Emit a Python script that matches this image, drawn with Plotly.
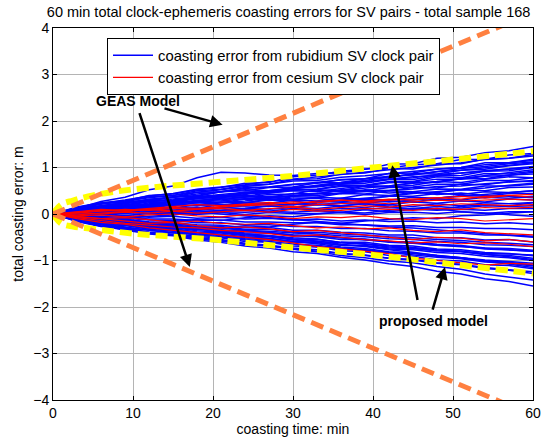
import plotly.graph_objects as go

# coasting time samples (min)
t = [0, 3, 6, 9, 12, 15, 18, 21, 24, 27, 30, 33, 36, 39, 42, 45, 48, 51, 54, 57, 60]

# rubidium SV clock pair coasting errors (m)
blue_series = [
    [0, .15, .24, .28, .40, .43, .52, .57, .66, .68, .80, .84, .92, .96, 1.07, 1.08, 1.20, 1.22, 1.32, 1.36, 1.45],
    [0, .12, .27, .36, .52, .60, .78, .90, .88, .84, .83, .87, .88, .97, .99, 1.06, 1.08, 1.17, 1.18, 1.27, 1.30],
    [0, .10, .22, .26, .37, .40, .50, .53, .62, .64, .74, .76, .86, .88, .98, .97, 1.08, 1.08, 1.18, 1.20, 1.28],
    [0, .08, .17, .23, .32, .36, .47, .48, .57, .58, .64, .66, .74, .76, .87, .88, .97, 1.00, 1.10, 1.10, 1.18],
    [0, .12, .16, .24, .28, .37, .38, .48, .50, .57, .58, .67, .68, .76, .78, .87, .86, .94, .96, 1.04, 1.08],
    [0, .05, .14, .18, .27, .30, .37, .38, .47, .48, .57, .58, .64, .66, .74, .74, .82, .83, .92, .93, 1.00],
    [0, .08, .12, .13, .24, .26, .34, .36, .44, .46, .52, .53, .62, .62, .70, .70, .80, .78, .87, .86, .92],
    [0, .10, .13, .20, .18, .27, .28, .34, .36, .42, .43, .52, .50, .60, .60, .67, .68, .76, .76, .84, .86],
    [0, .05, .12, .13, .20, .20, .30, .30, .37, .36, .44, .43, .52, .50, .57, .58, .64, .64, .72, .72, .78],
    [0, .06, .10, .16, .18, .26, .24, .32, .32, .38, .38, .44, .44, .52, .50, .57, .56, .64, .63, .70, .70],
    [0, .04, .10, .10, .18, .18, .24, .24, .32, .30, .37, .36, .44, .43, .50, .48, .54, .53, .60, .60, .64],
    [0, .06, .08, .12, .12, .20, .18, .26, .24, .32, .30, .36, .34, .42, .40, .46, .46, .52, .50, .57, .58],
    [0, .03, .08, .08, .14, .13, .20, .18, .24, .23, .30, .28, .34, .32, .38, .38, .44, .42, .48, .46, .50],
    [0, .05, .06, .10, .08, .14, .13, .20, .18, .22, .20, .27, .26, .32, .30, .36, .34, .40, .38, .44, .44],
    [0, .02, .07, .06, .12, .08, .14, .13, .18, .16, .22, .20, .24, .23, .28, .26, .32, .30, .36, .34, .38],
    [0, .04, .02, .08, .06, .12, .08, .14, .12, .17, .14, .20, .18, .22, .20, .26, .23, .28, .26, .32, .30],
    [0, .02, .05, .03, .08, .04, .10, .08, .12, .10, .14, .12, .17, .14, .20, .16, .22, .18, .24, .22, .25],
    [0, 0, .03, .01, .05, .04, .07, .05, .10, .06, .12, .08, .12, .10, .14, .12, .16, .13, .18, .16, .18],
    [0, .02, -.01, .03, .01, .05, .01, .05, .04, .06, .04, .07, .04, .09, .05, .10, .08, .10, .08, .12, .12],
    [0, -.02, .01, -.03, .01, .02, -.01, .03, -.01, .03, .01, .01, .03, -.01, .03, .04, .01, .05, .01, .05, .05],
    [0, -.02, -.05, -.03, -.07, -.05, -.09, -.07, -.11, -.09, -.13, -.11, -.15, -.13, -.16, -.15, -.19, -.17, -.21, -.19, -.22],
    [0, -.04, -.06, -.07, -.11, -.11, -.14, -.13, -.17, -.17, -.19, -.19, -.23, -.23, -.26, -.25, -.29, -.29, -.31, -.31, -.34],
    [0, -.03, -.09, -.09, -.13, -.14, -.19, -.19, -.23, -.23, -.27, -.27, -.31, -.31, -.36, -.37, -.41, -.41, -.45, -.45, -.48],
    [0, -.06, -.11, -.13, -.17, -.19, -.23, -.24, -.29, -.29, -.35, -.35, -.39, -.41, -.45, -.45, -.51, -.51, -.56, -.55, -.60],
    [0, -.05, -.13, -.14, -.21, -.23, -.29, -.29, -.35, -.37, -.41, -.43, -.47, -.49, -.53, -.55, -.59, -.61, -.66, -.67, -.70],
    [0, -.08, -.13, -.17, -.23, -.27, -.33, -.34, -.41, -.41, -.47, -.49, -.55, -.55, -.61, -.63, -.67, -.69, -.75, -.77, -.80],
    [0, -.10, -.16, -.19, -.27, -.29, -.36, -.39, -.45, -.47, -.53, -.55, -.61, -.61, -.67, -.69, -.75, -.77, -.83, -.85, -.90],
    [0, -.10, -.19, -.21, -.31, -.34, -.41, -.44, -.51, -.53, -.59, -.61, -.67, -.69, -.75, -.77, -.83, -.85, -.91, -.94, -1.00],
    [0, -.12, -.21, -.25, -.33, -.37, -.45, -.49, -.56, -.59, -.65, -.67, -.73, -.77, -.83, -.85, -.91, -.94, -1.01, -1.04, -1.10],
    [0, -.14, -.23, -.29, -.36, -.41, -.49, -.51, -.59, -.61, -.69, -.71, -.79, -.81, -.89, -.91, -.99, -1.01, -1.09, -1.11, -1.18],
    [0, -.15, -.26, -.31, -.39, -.44, -.51, -.55, -.63, -.67, -.73, -.77, -.85, -.89, -.95, -.99, -1.06, -1.09, -1.17, -1.21, -1.28],
    [0, -.16, -.27, -.33, -.41, -.45, -.53, -.57, -.65, -.69, -.76, -.81, -.89, -.94, -1.01, -1.05, -1.13, -1.19, -1.29, -1.35, -1.42],
    [0, -.15, -.26, -.34, -.43, -.47, -.56, -.61, -.69, -.73, -.81, -.85, -.93, -.99, -1.07, -1.13, -1.23, -1.29, -1.39, -1.45, -1.55],
    [0, .08, .15, .19, .27, .29, .37, .39, .45, .45, .51, .53, .59, .61, .67, .69, .75, .75, .81, .83, .90],
    [0, -.06, -.11, -.11, -.19, -.21, -.26, -.27, -.33, -.33, -.39, -.39, -.43, -.45, -.49, -.51, -.55, -.57, -.61, -.63, -.66],
    [0, -.10, -.17, -.21, -.29, -.31, -.39, -.41, -.47, -.49, -.56, -.59, -.63, -.65, -.71, -.74, -.79, -.81, -.87, -.89, -.95],
    [0, .10, .18, .25, .30, .28, .35, .40, .38, .45, .50, .48, .55, .60, .58, .62, .70, .68, .75, .80, .78],
    [0, .06, .15, .22, .30, .36, .40, .48, .52, .50, .55, .52, .48, .50, .45, .48, .42, .45, .40, .38, .35],
    [0, -.05, .02, .08, .15, .22, .28, .35, .42, .48, .55, .62, .68, .72, .80, .85, .92, .98, 1.02, 1.08, 1.12],
    [0, .08, .12, .18, .15, .22, .25, .20, .24, .30, .28, .22, .18, .22, .15, .10, .12, .05, .02, -.02, -.05],
    [0, -.08, -.12, -.10, -.05, -.02, .04, .08, .12, .18, .20, .26, .30, .35, .38, .44, .48, .52, .56, .62, .66],
    [0, -.10, -.18, -.24, -.30, -.28, -.34, -.30, -.25, -.28, -.22, -.18, -.20, -.15, -.12, -.08, -.10, -.04, -.02, .02, .05],
    [0, .12, .21, .28, .35, .40, .47, .52, .59, .64, .71, .72, .79, .82, .87, .92, .96, 1.00, 1.06, 1.10, 1.15],
    [0, -.12, -.21, -.28, -.35, -.40, -.45, -.50, -.55, -.60, -.65, -.70, -.75, -.78, -.83, -.88, -.93, -.96, -1.03, -1.06, -1.12],
    [0, -.06, -.15, -.22, -.29, -.36, -.43, -.46, -.53, -.56, -.61, -.62, -.67, -.68, -.73, -.74, -.79, -.80, -.85, -.86, -.88],
    [0, .06, .04, .10, .16, .20, .18, .24, .28, .34, .40, .44, .50, .56, .60, .66, .70, .76, .82, .88, .95],
    [0, .04, .10, .14, .12, .08, .05, 0, -.04, -.08, -.12, -.15, -.20, -.24, -.28, -.30, -.34, -.38, -.42, -.46, -.50],
    [0, -.04, -.09, -.14, -.19, -.24, -.31, -.36, -.43, -.48, -.55, -.58, -.65, -.70, -.77, -.82, -.89, -.94, -1.01, -1.08, -1.15],
    [0, .14, .23, .30, .39, .44, .53, .58, .63, .70, .75, .80, .86, .90, .95, 1.00, 1.06, 1.10, 1.17, 1.20, 1.25],
    [0, .02, .09, .14, .21, .26, .33, .38, .45, .48, .55, .60, .65, .70, .75, .78, .85, .88, .93, .98, 1.02],
    [0, -.14, -.23, -.30, -.39, -.44, -.53, -.58, -.65, -.68, -.75, -.80, -.85, -.88, -.95, -.98, -1.05, -1.08, -1.15, -1.20, -1.24],
    [0, -.02, -.07, -.12, -.17, -.20, -.27, -.30, -.35, -.40, -.45, -.46, -.51, -.56, -.59, -.62, -.67, -.70, -.73, -.76, -.80],
    [0, .08, .17, .20, .27, .32, .37, .42, .47, .50, .57, .60, .67, .70, .75, .80, .83, .88, .93, .96, 1.00],
    [0, -.08, -.14, -.18, -.20, -.16, -.12, -.14, -.08, -.04, -.06, 0, .04, .02, .08, .12, .10, .16, .20, .18, .24],
    [0, .06, .12, .18, .22, .28, .34, .36, .40, .36, .32, .34, .28, .30, .26, .30, .34, .38, .42, .46, .50],
    [0, -.06, -.13, -.18, -.25, -.28, -.33, -.38, -.43, -.46, -.51, -.54, -.61, -.64, -.69, -.72, -.77, -.80, -.87, -.92, -.98],
    [0, .10, .17, .24, .31, .36, .43, .48, .55, .58, .63, .68, .73, .76, .81, .84, .91, .94, .99, 1.04, 1.10],
    [0, -.12, -.17, -.22, -.27, -.32, -.39, -.44, -.49, -.52, -.59, -.64, -.71, -.74, -.81, -.84, -.89, -.94, -.99, -1.02, -1.06],
    [0, .04, .09, .12, .19, .22, .27, .28, .33, .34, .39, .40, .45, .48, .51, .54, .59, .60, .65, .68, .72],
    [0, -.04, -.11, -.16, -.23, -.26, -.31, -.34, -.37, -.40, -.45, -.48, -.51, -.54, -.59, -.60, -.65, -.68, -.73, -.74, -.78],
]

# cesium SV clock pair coasting errors (m)
red_series = [
    [0, .05, .10, .08, .12, .15, .20, .18, .22, .25, .22, .28, .30, .26, .30, .32, .35, .32, .38, .40, .42],
    [0, .02, .06, .10, .08, .12, .10, .15, .18, .20, .16, .20, .22, .25, .22, .26, .30, .28, .30, .32, .30],
    [0, -.02, .02, .05, .10, .06, .10, .12, .08, .12, .15, .10, .14, .18, .15, .20, .18, .22, .20, .18, .20],
    [0, .03, 0, .04, .02, .06, .02, .05, .08, .04, .10, .06, .08, .12, .10, .08, .12, .10, .14, .12, .15],
    [0, -.04, -.02, -.06, -.02, 0, -.04, -.06, -.02, -.05, -.10, -.06, -.08, -.04, -.10, -.12, -.08, -.10, -.15, -.12, -.10],
    [0, -.05, -.10, -.08, -.12, -.18, -.15, -.20, -.22, -.20, -.25, -.30, -.28, -.32, -.30, -.35, -.38, -.34, -.40, -.42, -.45],
    [0, -.06, -.10, -.15, -.20, -.18, -.25, -.30, -.28, -.32, -.38, -.35, -.40, -.45, -.50, -.55, -.50, -.52, -.58, -.55, -.60],
    [0, -.08, -.14, -.20, -.24, -.28, -.30, -.35, -.38, -.42, -.48, -.45, -.50, -.55, -.58, -.62, -.60, -.64, -.62, -.65, -.70],
    [0, -.10, -.18, -.22, -.30, -.35, -.40, -.45, -.50, -.55, -.62, -.70, -.75, -.80, -.85, -.95, -1.00, -1.05, -1.10, -1.06, -1.08],
    [0, .04, .08, .06, .10, .14, .12, .16, .20, .22, .26, .24, .30, .28, .32, .30, .35, .38, .34, .40, .36],
]

# model bounds
model_t = [0, 1, 2.5, 5, 10, 20, 30, 40, 50, 60]
proposed_upper = [0, .20, .29, .40, .53, .68, .82, 1.00, 1.17, 1.35]
proposed_lower = [0, -.20, -.27, -.32, -.42, -.55, -.72, -.88, -1.08, -1.28]
geas_t = [0, 60]
geas_upper = [0, 4.33]
geas_lower = [0, -4.33]

BLUE = "#0000ff"
RED = "#ff0000"
YELLOW = "#ffff00"
ORANGE = "#ff8040"
FONT = "Liberation Sans, Arial, sans-serif"
FS = 14

fig = go.Figure()
for i, ys in enumerate(blue_series):
    fig.add_trace(go.Scatter(x=t, y=ys, mode="lines", line=dict(color=BLUE, width=1.5),
                             name="coasting error from rubidium SV clock pair",
                             showlegend=(i == 0), legendgroup="rb"))
for i, ys in enumerate(red_series):
    fig.add_trace(go.Scatter(x=t, y=ys, mode="lines", line=dict(color=RED, width=1.2),
                             name="coasting error from cesium SV clock pair",
                             showlegend=(i == 0), legendgroup="cs"))
for ys in (proposed_upper, proposed_lower):
    fig.add_trace(go.Scatter(x=model_t, y=ys, mode="lines", showlegend=False,
                             line=dict(color=YELLOW, width=6, dash="12px,6px", shape="spline")))
for ys in (geas_upper, geas_lower):
    fig.add_trace(go.Scatter(x=geas_t, y=ys, mode="lines", showlegend=False,
                             line=dict(color=ORANGE, width=5, dash="13px,7px")))

arrows = [
    (13.75, 2.28, 21.2, 1.92),
    (10.75, 2.20, 17.1, -1.14),
    (45.6, -1.88, 42.4, 1.05),
    (47.4, -2.09, 49.0, -1.14),
]
for ax_, ay_, x_, y_ in arrows:
    fig.add_annotation(x=x_, y=y_, ax=ax_, ay=ay_, xref="x", yref="y", axref="x", ayref="y",
                       text="", showarrow=True, arrowhead=2, arrowsize=1.0, arrowwidth=2.5,
                       arrowcolor="black")
fig.add_annotation(x=10.6, y=2.43, xref="x", yref="y", text="<b>GEAS Model</b>", showarrow=False,
                   font=dict(family=FONT, size=FS, color="black"))
fig.add_annotation(x=47.5, y=-2.3, xref="x", yref="y", text="<b>proposed model</b>", showarrow=False,
                   font=dict(family=FONT, size=FS, color="black"))

axis_common = dict(showline=True, linecolor="black", linewidth=1, mirror="allticks",
                   ticks="inside", ticklen=4, tickcolor="black", showgrid=True,
                   gridcolor="#b4b4b4", gridwidth=1, zeroline=False,
                   tickfont=dict(family=FONT, size=FS, color="black"))
fig.update_layout(
    width=555, height=446,
    margin=dict(l=53, r=22, t=28, b=41),
    paper_bgcolor="white", plot_bgcolor="white",
    font=dict(family=FONT, size=FS, color="black"),
    title=dict(text="60 min total clock-ephemeris coasting errors for SV pairs - total sample 168",
               x=0.52, xanchor="center", y=0.973, yanchor="middle",
               font=dict(family=FONT, size=14.5, color="black")),
    xaxis=dict(range=[0, 60], dtick=10, tick0=0,
               title=dict(text="coasting time: min", standoff=3, font=dict(family=FONT, size=FS)),
               **axis_common),
    yaxis=dict(range=[-4, 4], dtick=1, tick0=0,
               title=dict(text="total coasting error: m", standoff=6, font=dict(family=FONT, size=FS)),
               **axis_common),
    legend=dict(x=0.1125, y=0.973, xanchor="left", yanchor="top", bgcolor="white",
                bordercolor="black", borderwidth=1, font=dict(family=FONT, size=14.8),
                tracegroupgap=0, itemwidth=40),
    showlegend=True,
)
fig.write_html("out.html")
